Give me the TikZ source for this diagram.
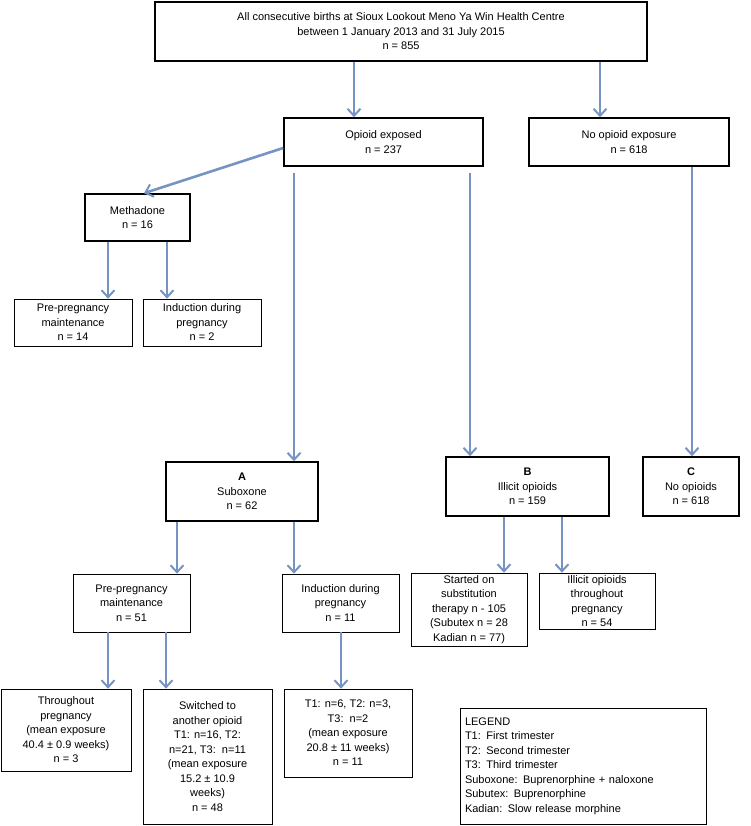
\documentclass[tikz,border=0pt]{standalone}
\usepackage{fontspec}
\setmainfont{Liberation Sans}
\usetikzlibrary{arrows.meta}
\tikzset{
  box/.style={draw,line width=0.7pt,align=center,inner sep=0pt,font=\fontsize{11}{14.5}\selectfont},
  bbox/.style={box,line width=1.6pt},
  arr/.style={draw={rgb,255:red,117;green,148;blue,196},line width=2.6pt,-{Straight Barb[length=7pt,width=13pt,line width=2pt]}}
}
\begin{document}
\begin{tikzpicture}[x=1pt,y=-1pt]
    \useasboundingbox (0,0) rectangle (750,826);
    % top level
    \node[bbox,minimum width=492pt,minimum height=59pt] (all) at (401,31.5) {All consecutive births at Sioux Lookout Meno Ya Win Health Centre\\between 1 January 2013 and 31 July 2015\\n = 855};
    \node[bbox,minimum width=199pt,minimum height=48pt] (opi) at (383.5,142) {Opioid exposed\\n = 237};
    \node[bbox,minimum width=200pt,minimum height=48pt] (noop) at (629,142) {No opioid exposure\\n = 618};
    % methadone
    \node[bbox,minimum width=105pt,minimum height=47pt] (meth) at (137.5,217.5) {Methadone\\n = 16};
    \node[box,minimum width=118pt,minimum height=47pt] (mpre) at (73,322.5) {Pre-pregnancy\\maintenance\\n = 14};
    \node[box,minimum width=118pt,minimum height=47pt] (mind) at (202,322.5) {Induction during\\pregnancy\\n = 2};
    % groups A B C
    \node[bbox,minimum width=152pt,minimum height=59pt] (subx) at (242,491.5) {\textbf{A}\\Suboxone\\n = 62};
    \node[bbox,minimum width=163pt,minimum height=59pt] (illi) at (527.5,486.5) {\textbf{B}\\Illicit opioids\\n = 159};
    \node[bbox,minimum width=96pt,minimum height=59pt] (none) at (691,486.5) {\textbf{C}\\No opioids\\n = 618};
    % suboxone split
    \node[box,minimum width=117pt,minimum height=58pt] (spre) at (131.5,603) {Pre-pregnancy\\maintenance\\n = 51};
    \node[box,minimum width=117pt,minimum height=58pt] (sind) at (340.5,603) {Induction during\\pregnancy\\n = 11};
    % illicit split
    \node[box,minimum width=116pt,minimum height=73pt] (subst) at (469,609.5) {Started on\\substitution\\therapy n - 105\\(Subutex n = 28\\Kadian n = 77)};
    \node[box,minimum width=116pt,minimum height=56pt] (thru) at (597,601) {Illicit opioids\\throughout\\pregnancy\\n = 54};
    % bottom row
    \node[box,minimum width=130pt,minimum height=82pt] (whole) at (66,730) {Throughout\\pregnancy\\(mean exposure\\40.4 ± 0.9 weeks)\\n = 3};
    \node[box,minimum width=129pt,minimum height=135pt] (swit) at (207.5,756.5) {Switched to\\another opioid\\T1: n=16, T2:\\n=21, T3:\ \ n=11\\(mean exposure\\15.2 ± 10.9\\weeks)\\n = 48};
    \node[box,minimum width=128pt,minimum height=88pt] (tri) at (348,733) {T1: n=6, T2: n=3,\\T3:\ \ n=2\\(mean exposure\\20.8 ± 11 weeks)\\n = 11};
    \node[box,align=left,minimum width=246pt,minimum height=116pt,text width=236pt] (leg) at (583,766) {LEGEND\\T1: First trimester\\T2: Second trimester\\T3: Third trimester\\Suboxone: Buprenorphine + naloxone\\Subutex: Buprenorphine\\Kadian: Slow release morphine};
    % arrows
    \draw[arr] (all.south -| 354,0) -- (opi.north -| 354,0);
    \draw[arr] (all.south -| 600,0) -- (noop.north -| 600,0);
    \draw[arr] (opi.west |- 0,148) -- (meth.north -| 144,0);
    \draw[arr] (meth.south -| 108,0) -- (mpre.north -| 108,0);
    \draw[arr] (meth.south -| 167,0) -- (mind.north -| 167,0);
    \draw[arr] ([yshift=-6pt]opi.south -| 294,0) -- (subx.north -| 294,0);
    \draw[arr] ([yshift=-6pt]opi.south -| 470,0) -- (illi.north -| 470,0);
    \draw[arr] (noop.south -| 692,0) -- (none.north -| 692,0);
    \draw[arr] (subx.south -| 177,0) -- (spre.north -| 177,0);
    \draw[arr] (subx.south -| 294,0) -- (sind.north -| 294,0);
    \draw[arr] (illi.south -| 504,0) -- (subst.north -| 504,0);
    \draw[arr] (illi.south -| 562,0) -- (thru.north -| 562,0);
    \draw[arr] (spre.south -| 108,0) -- (whole.north -| 108,0);
    \draw[arr] (spre.south -| 166,0) -- (swit.north -| 166,0);
    \draw[arr] (sind.south -| 341,0) -- (tri.north -| 341,0);
\end{tikzpicture}
\end{document}
